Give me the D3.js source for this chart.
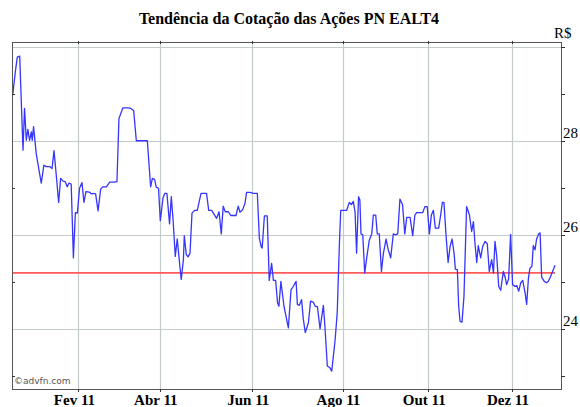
<!DOCTYPE html>
<html>
<head>
<meta charset="utf-8">
<script src="https://cdn.jsdelivr.net/npm/d3@7"></script>
<style>
  body { margin: 0; background: #fff; }
</style>
</head>
<body>
<div id="chart"></div>
<script>
// trading session index (x) and closing price in R$ (y)
const session = [
  0.1, 1.3, 2.2, 3.3, 4.8, 5.5, 6.3, 7.0, 7.8, 8.6, 9.0, 9.6, 10.8, 12.3, 13.1, 14.3, 15.4, 16.9, 18.0, 18.9,
  20.1, 21.0, 21.9, 23.0, 24.0, 24.9, 25.7, 26.7, 27.7, 28.6, 29.5, 30.5, 31.6, 32.5, 33.4, 34.3, 35.2, 35.8, 36.9, 37.8,
  38.9, 40.1, 41.0, 42.7, 44.2, 46.4, 47.5, 48.4, 50.2, 52.5, 53.7, 55.1, 56.3, 58.3, 60.1, 61.3, 62.8, 63.6, 64.6, 65.4,
  66.4, 67.2, 68.4, 69.2, 70.2, 71.4, 72.2, 73.0, 74.0, 74.9, 75.8, 76.7, 77.7, 78.1, 79.0, 79.8,
  80.7, 81.6, 82.8, 84.0, 85.7, 86.7, 88.2, 89.2, 90.5, 91.3, 92.8, 93.9, 94.9, 95.8, 96.7, 98.1, 99.2, 100.4, 101.6, 102.6,
  103.4, 104.6, 105.7, 106.4, 107.9, 109.5, 111.3, 112.2, 113.1, 113.5, 114.5, 115.8, 116.7, 117.8, 118.6, 119.6, 120.5, 121.1, 122.0, 123.4,
  125.4, 126.6, 127.6, 128.9, 129.5, 130.4, 131.4, 132.2, 133.1, 134.5, 135.5, 136.7, 137.6, 138.6, 139.8, 141.3, 142.0, 143.1, 144.3, 145.1,
  146.6, 147.6, 148.6, 149.2, 150.4, 151.9, 153.1, 154.0, 154.9, 155.7, 156.4, 157.3, 157.9,
  158.4, 159.2, 160.1, 161.3, 162.2, 163.3, 164.0, 165.1, 165.8, 166.7, 167.7, 168.6, 169.8, 170.8, 171.9, 173.1, 174.0, 175.1, 176.1, 177.3,
  178.3, 179.2, 180.7, 181.9, 182.9, 183.7, 185.2, 186.4, 187.5, 188.5, 189.5, 190.4, 191.3, 192.2, 193.7, 194.3, 195.4, 196.1, 197.1, 198.0,
  198.9, 199.8, 200.7, 201.3, 202.2, 202.8, 203.4, 204.3, 205.2, 206.4, 207.7, 208.7, 209.5, 210.2, 211.0, 211.7, 212.8, 213.7, 214.8, 215.8,
  216.7, 217.8, 218.6, 219.3, 220.1, 221.0, 221.9, 223.1, 224.0, 224.6, 225.5, 226.4, 227.3, 228.4, 229.2, 230.1, 231.0, 231.9, 233.0, 233.7,
  234.5, 235.2, 236.1, 236.7, 237.5, 238.2, 239.2, 239.8, 240.5, 241.7, 242.8, 243.5, 244.3, 246.6
];
const price = [
  28.97, 29.46, 29.78, 29.80, 27.80, 28.69, 28.01, 28.24, 28.01, 28.19, 28.01, 28.30, 27.73, 27.31, 27.10, 27.48, 27.45, 27.45, 27.41, 27.79,
  27.17, 26.69, 27.20, 27.14, 27.13, 27.02, 27.10, 27.08, 25.51, 26.47, 26.46, 26.99, 27.11, 26.69, 26.92, 26.91, 26.90, 26.87, 26.88, 26.87,
  26.51, 26.97, 27.02, 27.02, 27.12, 27.12, 27.13, 28.47, 28.70, 28.70, 28.69, 28.64, 28.00, 28.00, 28.00, 28.00, 27.02, 27.20, 27.18, 27.01,
  26.99, 26.30, 26.78, 26.88, 26.88, 26.23, 26.81, 26.32, 25.54, 25.91, 25.47, 25.05, 25.47, 25.98, 25.58, 25.53,
  25.61, 26.46, 26.52, 26.52, 26.88, 26.88, 26.88, 26.52, 26.52, 26.46, 26.35, 26.49, 26.02, 26.61, 26.49, 26.49, 26.41, 26.41, 26.41, 26.61,
  26.48, 26.53, 26.67, 26.90, 26.90, 26.88, 26.88, 25.93, 25.74, 25.72, 26.40, 26.40, 25.03, 25.39, 25.03, 25.03, 24.55, 24.48, 25.01, 24.48,
  24.02, 24.83, 24.90, 25.01, 24.52, 24.50, 24.62, 24.20, 23.92, 24.13, 24.59, 24.57, 24.48, 24.47, 24.00, 24.50, 24.06, 23.21, 23.17, 23.10,
  23.74, 24.34, 25.82, 26.52, 26.52, 26.52, 26.69, 26.64, 26.71, 26.49, 25.61, 26.81, 26.74,
  26.02, 26.00, 25.19, 25.61, 25.89, 26.02, 26.42, 26.42, 26.02, 26.02, 25.22, 25.61, 25.91, 25.68, 25.51, 26.02, 26.00, 26.02, 26.76, 26.64,
  26.02, 26.37, 26.37, 25.98, 26.42, 26.47, 26.47, 26.47, 26.60, 26.60, 26.02, 26.42, 26.52, 26.14, 26.14, 26.32, 26.69, 26.69, 25.96, 25.41,
  25.75, 25.91, 25.61, 25.27, 25.26, 24.48, 24.16, 24.14, 24.69, 26.60, 26.42, 26.07, 26.28, 25.82, 25.41, 25.77, 25.51, 25.75, 25.86, 25.81,
  25.22, 25.47, 25.19, 25.86, 25.54, 24.90, 24.82, 25.22, 25.08, 24.94, 25.06, 26.01, 24.94, 24.90, 24.92, 24.80, 24.98, 25.03, 24.76, 24.52,
  25.08, 25.29, 25.33, 25.77, 25.68, 25.91, 26.02, 26.04, 25.10, 25.01, 24.98, 25.01, 25.08, 25.35
];

const monthLabels = ["Fev 11", "Abr 11", "Jun 11", "Ago 11", "Out 11", "Dez 11"];
const monthSessions = [30, 67, 109, 150, 189, 227];
const yLabels = [24, 26, 28];
const yGrid = [24, 26, 28, 30];
const yMinor = [23, 25, 27, 29];
const refPrice = 25.19;   // red reference line

const width = 580, height = 407;
const frame = {left: 12, right: 561, top: 42, bottom: 389};
const serif = "Liberation Serif, DejaVu Serif, serif";

const svg = d3.select("#chart")
  .append("svg")
    .attr("width", width)
    .attr("height", height)
    .style("display", "block");

const x = d3.scaleLinear()
  .domain([-0.2, 249.3])
  .range([frame.left, frame.right]);

const y = d3.scaleLinear()
  .domain([22.72, 30.1])
  .range([frame.bottom, frame.top]);

// title
svg.append("text")
  .attr("x", 289)
  .attr("y", 24)
  .attr("text-anchor", "middle")
  .attr("font-family", serif)
  .attr("font-weight", "bold")
  .attr("font-size", 16)
  .text("Tendência da Cotação das Ações PN EALT4");

svg.append("text")
  .attr("x", 554)
  .attr("y", 38)
  .attr("font-family", serif)
  .attr("font-size", 15)
  .text("R$");

// grid
const grid = svg.append("g").attr("id", "grid");
grid.selectAll("line.h")
  .data(yGrid)
  .enter()
    .append("line")
    .attr("class", "h")
    .attr("x1", frame.left).attr("x2", frame.right)
    .attr("y1", (d) => Math.round(y(d)) + 0.5)
    .attr("y2", (d) => Math.round(y(d)) + 0.5)
    .attr("stroke", "#c3cbcb")
    .attr("stroke-width", 1.2);
grid.selectAll("line.v")
  .data(monthSessions)
  .enter()
    .append("line")
    .attr("class", "v")
    .attr("x1", (d) => Math.round(x(d)) + 0.5)
    .attr("x2", (d) => Math.round(x(d)) + 0.5)
    .attr("y1", frame.top).attr("y2", frame.bottom)
    .attr("stroke", "#c3cbcb")
    .attr("stroke-width", 1.2);

// reference line
svg.append("line")
  .attr("x1", frame.left)
  .attr("x2", x(session[session.length - 1]))
  .attr("y1", y(refPrice))
  .attr("y2", y(refPrice))
  .attr("stroke", "#ff5a5a")
  .attr("stroke-width", 1.8);

// price line
const line = d3.line()
  .x((d, i) => x(session[i]))
  .y((d) => y(d));

svg.append("path")
  .datum(price)
  .attr("fill", "none")
  .attr("stroke", "#3535ff")
  .attr("stroke-width", 1.3)
  .attr("stroke-linejoin", "round")
  .attr("d", line);

// frame
svg.append("rect")
  .attr("x", frame.left + 0.5)
  .attr("y", frame.top + 0.5)
  .attr("width", frame.right - frame.left)
  .attr("height", frame.bottom - frame.top)
  .attr("fill", "none")
  .attr("stroke", "#555")
  .attr("stroke-width", 1);

// month ticks above and below the frame
const ticks = svg.append("g").attr("stroke", "#333");
monthSessions.forEach((s) => {
  const px = Math.round(x(s)) + 0.5;
  ticks.append("line").attr("x1", px).attr("x2", px)
    .attr("y1", frame.bottom).attr("y2", frame.bottom + 3);
  ticks.append("line").attr("x1", px).attr("x2", px)
    .attr("y1", frame.top - 1).attr("y2", frame.top + 2);
});

// right axis ticks, major and minor
yGrid.concat(yMinor).forEach((v) => {
  const py = Math.round(y(v)) + 0.5;
  if (py < frame.top || py > frame.bottom) return;
  ticks.append("line")
    .attr("x1", frame.right).attr("x2", frame.right + 4)
    .attr("y1", py).attr("y2", py);
});
yMinor.forEach((v) => {
  const py = Math.round(y(v)) + 0.5;
  ticks.append("line")
    .attr("x1", frame.left).attr("x2", frame.left + 3)
    .attr("y1", py).attr("y2", py);
});

// y labels
svg.selectAll("text.ylab")
  .data(yLabels)
  .enter()
    .append("text")
    .attr("class", "ylab")
    .attr("x", frame.right + 2)
    .attr("y", (d) => y(d) - 3)
    .attr("font-family", serif)
    .attr("font-size", 15)
    .text((d) => d);

// x labels
svg.selectAll("text.xlab")
  .data(monthSessions)
  .enter()
    .append("text")
    .attr("class", "xlab")
    .attr("x", (d) => x(d) - 4)
    .attr("y", 405)
    .attr("text-anchor", "middle")
    .attr("font-family", serif)
    .attr("font-weight", "bold")
    .attr("font-size", 15)
    .text((d, i) => monthLabels[i]);

// watermark
svg.append("text")
  .attr("x", 14)
  .attr("y", 384)
  .attr("font-family", "DejaVu Sans, sans-serif")
  .attr("font-size", 9)
  .attr("fill", "#555")
  .text("©advfn.com");
</script>
</body>
</html>
